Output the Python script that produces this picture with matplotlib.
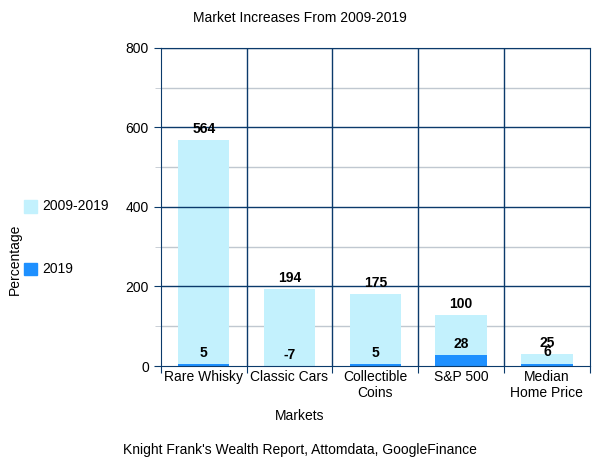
import matplotlib.pyplot as plt
import numpy as np
from matplotlib.patches import Rectangle

plt.rcParams['font.family'] = ['Liberation Sans', 'DejaVu Sans']

markets = ["Rare Whisky", "Classic Cars", "Collectible\nCoins", "S&P 500", "Median\nHome Price"]
decade = [564, 194, 175, 100, 25]     # 2009-2019
year_2019 = [5, -7, 5, 28, 6]         # 2019

light = "#c3f1fd"
dark = "#1e90ff"
navy = "#0b3a6b"

fig = plt.figure(figsize=(6, 4.63), dpi=100)
ax = fig.add_axes([0.268, 0.2095, 0.715, 0.687])

x = np.arange(len(markets))
dark_arr = np.array(year_2019)
base = np.where(dark_arr > 0, dark_arr, 0)

ax.bar(x, year_2019, width=0.6, color=dark, zorder=3)
ax.bar(x, decade, width=0.6, bottom=base, color=light, zorder=3)

# value labels
for i in range(len(markets)):
    ax.annotate(str(decade[i]), (x[i], base[i] + decade[i]), xytext=(0, 3),
                textcoords="offset points", ha="center", va="bottom",
                fontsize=10, fontweight="bold", zorder=5)
    ax.annotate(str(year_2019[i]), (x[i], max(year_2019[i], 0)), xytext=(0, 3),
                textcoords="offset points", ha="center", va="bottom",
                fontsize=10, fontweight="bold", zorder=5)

ax.set_xlim(-0.5, len(markets) - 0.5)
ax.set_ylim(0, 800)
ax.set_yticks([0, 200, 400, 600, 800])
ax.set_yticks([100, 300, 500, 700], minor=True)
ax.set_xticks(np.arange(-0.5, len(markets), 1))
ax.set_xticklabels([])
ax.set_xticks(x, minor=True)
ax.set_xticklabels(markets, minor=True, fontsize=10)
ax.tick_params(axis="y", labelsize=10, colors="black", length=5)
ax.tick_params(axis="y", which="major", color=navy)
ax.tick_params(axis="y", which="minor", length=4, color="#c0c8d0")
ax.tick_params(axis="x", which="major", length=5, color=navy)
ax.tick_params(axis="x", which="minor", length=0, pad=3)

# grid
for v in [200, 400, 600, 800]:
    ax.axhline(v, color=navy, lw=1, zorder=4)
for v in [100, 300, 500, 700]:
    ax.axhline(v, color="#c0c8d0", lw=1, zorder=1)
for b in np.arange(0.5, len(markets) - 0.5, 1):
    ax.axvline(b, color=navy, lw=1, zorder=4)
for s in ax.spines.values():
    s.set_color(navy)
    s.set_zorder(6)

fig.text(0.5, 0.962, "Market Increases From 2009-2019", ha="center", va="center", fontsize=10)
fig.text(0.5, 0.102, "Markets", ha="center", va="center", fontsize=10)
fig.text(0.5, 0.028, "Knight Frank's Wealth Report, Attomdata, GoogleFinance", ha="center", va="center", fontsize=10)
fig.text(0.024, 0.44, "Percentage", rotation=90, ha="center", va="center", fontsize=10)

# legend
fig.patches.append(Rectangle((0.04, 0.54), 0.022, 0.028, color=light, transform=fig.transFigure))
fig.patches.append(Rectangle((0.04, 0.405), 0.022, 0.028, color=dark, transform=fig.transFigure))
fig.text(0.07, 0.554, "2009-2019", ha="left", va="center", fontsize=10)
fig.text(0.07, 0.419, "2019", ha="left", va="center", fontsize=10)

fig.savefig("out.png", dpi=100)
